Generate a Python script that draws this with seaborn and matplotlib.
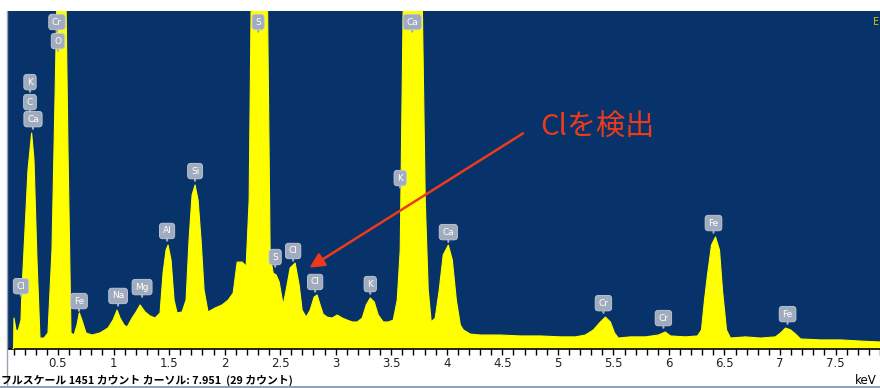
import numpy as np
import pandas as pd
import matplotlib
matplotlib.use("Agg")
import matplotlib.pyplot as plt
import seaborn as sns
from matplotlib.lines import Line2D

# spectrum (keV, counts); full scale 1451 counts
energy_kev = [0.09, 0.10, 0.104, 0.122, 0.14, 0.167, 0.176, 0.203, 0.23, 0.263, 0.284, 0.311, 0.338,
              0.374, 0.41, 0.446, 0.473, 0.49, 0.525, 0.572, 0.59, 0.617, 0.644, 0.671, 0.692,
              0.716, 0.752, 0.806, 0.878, 0.95, 0.995, 1.032, 1.059, 1.095, 1.122, 1.167, 1.203,
              1.239, 1.284, 1.329, 1.374, 1.419, 1.446, 1.473, 1.491, 1.518, 1.545, 1.572, 1.617,
              1.653, 1.68, 1.707, 1.734, 1.761, 1.788, 1.815, 1.851, 1.914, 1.977, 2.032, 2.077,
              2.113, 2.158, 2.194, 2.221, 2.239, 2.31, 2.386, 2.40, 2.41, 2.437, 2.464, 2.491,
              2.527, 2.554, 2.59, 2.635, 2.671, 2.698, 2.734, 2.77, 2.806, 2.833, 2.86, 2.887,
              2.923, 2.968, 3.014, 3.059, 3.104, 3.149, 3.194, 3.239, 3.275, 3.311, 3.347, 3.383,
              3.428, 3.473, 3.518, 3.554, 3.581, 3.608, 3.69, 3.779, 3.806, 3.833, 3.86, 3.896,
              3.932, 3.968, 4.014, 4.05, 4.086, 4.122, 4.149, 4.212, 4.302, 4.482, 4.662, 4.842,
              5.023, 5.158, 5.248, 5.32, 5.383, 5.428, 5.473, 5.51, 5.545, 5.653, 5.788, 5.905,
              5.968, 6.014, 6.149, 6.257, 6.293, 6.32, 6.347, 6.383, 6.419, 6.455, 6.482, 6.518,
              6.554, 6.689, 6.824, 6.959, 7.005, 7.05, 7.095, 7.14, 7.185, 7.365, 7.545, 7.725,
              7.905]
counts = [0, 0, 133, 82, 77, 124, 253, 511, 768, 927, 811, 382, 47,
          47, 69, 425, 1069, 1500, 1900, 1500, 854, 69, 60, 103, 155,
          124, 69, 60, 69, 90, 124, 167, 133, 103, 94, 133, 159,
          189, 159, 142, 133, 155, 326, 425, 446, 382, 210, 155, 159,
          210, 468, 661, 704, 640, 468, 253, 159, 176, 189, 210, 240,
          373, 373, 356, 640, 1500, 2600, 1500, 854, 403, 326, 318, 288,
          189, 253, 348, 369, 275, 167, 137, 167, 223, 232, 189, 150,
          137, 133, 146, 133, 124, 116, 116, 133, 189, 219, 202, 146,
          116, 116, 124, 210, 425, 1500, 2500, 1500, 640, 253, 116, 133,
          253, 404, 446, 382, 210, 103, 82, 64, 60, 60, 56, 56,
          52, 52, 60, 82, 116, 137, 116, 69, 47, 52, 52, 60,
          73, 56, 52, 56, 82, 210, 318, 446, 481, 425, 253, 82,
          47, 52, 47, 52, 69, 90, 82, 64, 43, 39, 39, 34,
          30]

# element markers: name, keV, counts at the tip of the marker stem
marker_names = ["K", "C", "Ca", "Cr", "O", "Cl", "Fe", "Na", "Mg", "Al", "Si", "S", "S", "Cl",
                "Cl", "K", "K", "Ca", "Ca", "Cr", "Cr", "Fe", "Fe"]
marker_kev = [0.248, 0.248, 0.275, 0.491, 0.50, 0.167, 0.689, 1.041, 1.257, 1.482, 1.734, 2.302,
              2.455, 2.617, 2.815, 3.311, 3.581, 3.689, 4.014, 5.41, 5.95, 6.401, 7.068]
marker_counts = [1104, 1018, 945, 1362, 1280, 228, 164, 186, 224, 465, 722, 1362,
                 353, 379, 246, 237, 692, 1362, 460, 155, 91, 499, 108]

tick_values = [0.5, 1, 1.5, 2, 2.5, 3, 3.5, 4, 4.5, 5, 5.5, 6, 6.5, 7, 7.5]
tick_labels = ["0.5", "1", "1.5", "2", "2.5", "3", "3.5", "4", "4.5", "5", "5.5", "6", "6.5", "7", "7.5"]

note_text = "Clを検出"
footer_text = "フルスケール 1451 カウント カーソル: 7.951  (29 カウント)"

sns.set_theme(style="white")
plt.rcParams["font.family"] = ["DejaVu Sans", "Noto Sans CJK JP"]

spec = pd.DataFrame({"keV": energy_kev, "counts": counts})

fig = plt.figure(figsize=(8.8, 3.88), dpi=100)
fig.patch.set_facecolor("white")
ax = fig.add_axes([8 / 880, 39 / 388, 872 / 880, 338 / 388])
ax.set_facecolor("#07336a")

ax.fill_between(spec["keV"], spec["counts"], 0, color="#ffff00", lw=0, zorder=2)
sns.lineplot(data=spec, x="keV", y="counts", color="#ffff00", lw=0.8, ax=ax, zorder=3)

ax.set_xlim(0.05, 7.9)
ax.set_ylim(0, 1451)
ax.set_xlabel("")
ax.set_ylabel("")
ax.set_yticks([])
ax.set_xticks(tick_values)
ax.set_xticklabels(tick_labels, fontsize=8.5, color="#222222")
ax.set_xticks(np.arange(0.1, 7.91, 0.1), minor=True)
ax.tick_params(axis="x", which="both", direction="out", length=4, width=1, color="black",
               bottom=True, pad=2)
for s in ["top", "left", "right"]:
    ax.spines[s].set_visible(False)
ax.spines["bottom"].set_color("black")
ax.spines["bottom"].set_linewidth(1.2)

for name, kev, cnt in zip(marker_names, marker_kev, marker_counts):
    ax.annotate(name, xy=(kev, cnt), xytext=(0, 7), textcoords="offset points",
                ha="center", va="center", fontsize=6.5, color="white",
                bbox=dict(boxstyle="round,pad=0.36", fc="#a0abbe", ec="#c3cbd8", lw=0.6),
                arrowprops=dict(arrowstyle="-", color="#a0abbe", lw=1.5, shrinkA=0, shrinkB=0),
                zorder=5)

# red callout
ax.annotate("", xy=(2.743, 343), xytext=(4.707, 932),
            arrowprops=dict(arrowstyle="-|>", color="#ee3a1c", lw=1.8, mutation_scale=22),
            zorder=6)
ax.text(4.84, 953, note_text, color="#ee3a1c", fontsize=21, va="center", ha="left",
        family=["Noto Sans CJK JP", "DejaVu Sans"], zorder=6)

ax.text(7.895, 1405, "E", color="#c8c800", fontsize=7, ha="right", va="center")

fig.text(1 / 880, 8 / 388, footer_text, fontsize=7.8, color="black", ha="left", va="center",
         family=["Noto Sans CJK JP", "DejaVu Sans"], fontweight="bold")
fig.text(877 / 880, 8 / 388, "keV", fontsize=8.5, color="black", ha="right", va="center")

# frame lines around the panel
fig.add_artist(Line2D([7 / 880, 7 / 880], [2 / 388, 377 / 388], color="#9aa3ae", lw=1))
fig.add_artist(Line2D([0, 1], [1 / 388, 1 / 388], color="#8fa3b8", lw=1.5))

fig.savefig("out.png", dpi=100)
